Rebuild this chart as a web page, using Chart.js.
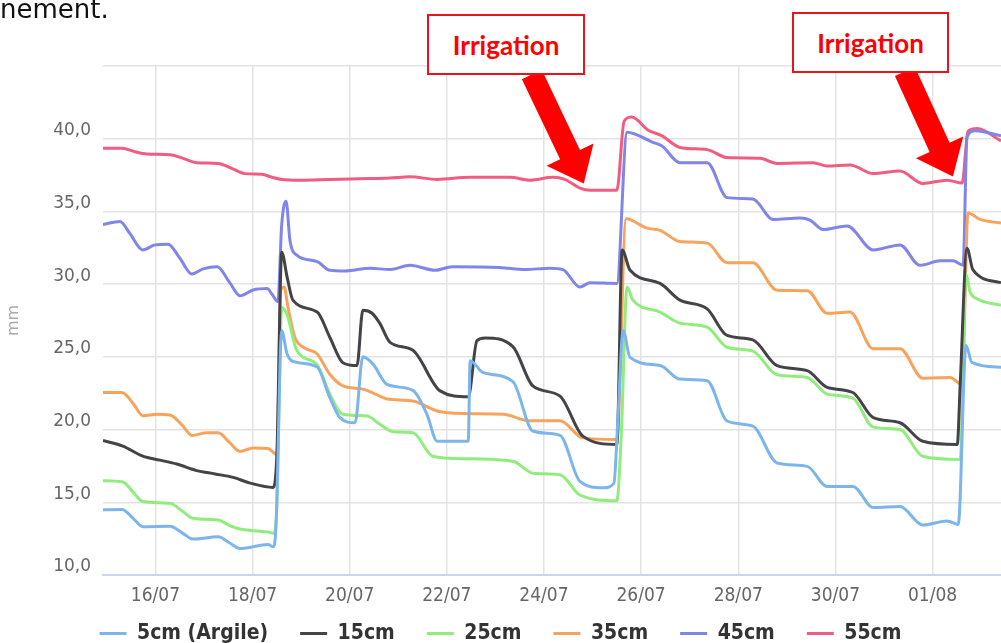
<!DOCTYPE html>
<html>
<head>
<meta charset="utf-8">
<script src="https://cdn.jsdelivr.net/npm/chart.js@4.4.0/dist/chart.umd.min.js"></script>
<style>
  html, body { margin: 0; padding: 0; background: #fff; }
  #wrap { position: relative; width: 1001px; height: 643px; overflow: hidden; }
  #chart { position: absolute; left: 0; top: 0; }
  .txt { position: absolute; left: 0; top: -4px; font: 26px/26px "DejaVu Sans", sans-serif; color: #111; }
  .irr { position: absolute; box-sizing: border-box; border: 2px solid #e8141c; background: #fff; color: #f00;
         font: bold 26px "Lato", sans-serif; display: flex; align-items: center; justify-content: center; }
</style>
</head>
<body>
<div id="wrap">
  <canvas id="chart" width="1001" height="643"></canvas>
  <div class="txt">nement.</div>
  <div class="irr" style="left:427px;top:14px;width:158px;height:61px">Irrigation</div>
  <div class="irr" style="left:792px;top:12px;width:157px;height:61px">Irrigation</div>
</div>
<script>
// jours (jour de juillet, 32 = 01/08) et valeurs en mm
const xTickDays = [16, 18, 20, 22, 24, 26, 28, 30, 32];
const xTickLabels = ['16/07', '18/07', '20/07', '22/07', '24/07', '26/07', '28/07', '30/07', '01/08'];
const yTicks = [10, 15, 20, 25, 30, 35, 40, 45];

const seriesNames = ['5cm (Argile)', '15cm', '25cm', '35cm', '45cm', '55cm'];

const days5 = [14.92, 15.31, 15.54, 15.74, 16.30, 16.55, 16.77, 17.29, 17.53, 17.74, 18.32, 18.42, 18.48, 18.60, 18.71, 18.91,
  19.33, 19.59, 19.80, 20.11, 20.27, 20.48, 20.77, 21.30, 21.59, 21.80, 22.44, 22.48, 22.74, 23.36, 23.77, 24.33, 24.74,
  25.22, 25.44, 25.52, 25.63, 25.77, 26.39, 26.80, 27.36, 27.77, 28.30, 28.80, 29.42, 29.83, 30.36, 30.78, 31.33, 31.80,
  32.30, 32.53, 32.69, 32.81, 33.41];
const mm5 = [14.48, 14.5, 13.9, 13.32, 13.35, 12.9, 12.47, 12.63, 12.2, 11.82, 12.1, 11.94, 13.2, 26.8, 25.2, 24.62,
  24.3, 22.2, 20.82, 20.47, 25.0, 24.5, 23.1, 22.7, 21.05, 19.2, 19.2, 24.74, 23.93, 23.3, 19.9, 19.6, 16.44,
  16.0, 16.3, 20.6, 26.8, 24.97, 24.4, 23.47, 23.36, 20.59, 20.24, 17.7, 17.47, 16.09, 16.09, 14.64, 14.71, 13.44,
  13.72, 13.48, 25.78, 24.62, 24.28];

const days15 = [14.92, 15.33, 15.74, 16.09, 16.44, 16.85, 17.23, 17.60, 17.95, 18.42, 18.50, 18.60, 18.71, 18.83, 19.33,
  19.59, 19.86, 20.15, 20.27, 20.46, 20.62, 20.83, 21.30, 21.86, 22.44, 22.62, 22.79, 23.36, 23.77, 24.33, 24.80, 25.50,
  25.61, 25.77, 26.39, 26.80, 27.36, 27.77, 28.30, 28.80, 29.42, 29.83, 30.36, 30.78, 31.33, 31.80, 32.51, 32.57, 32.71,
  32.83, 33.41];
const mm15 = [19.25, 18.86, 18.17, 17.9, 17.63, 17.18, 16.95, 16.71, 16.32, 16.02, 18.3, 32.2, 30.5, 28.9, 28.08,
  26.35, 24.6, 24.4, 28.2, 28.0, 27.3, 26.0, 25.45, 22.66, 22.25, 26.12, 26.3, 25.7, 23.0, 22.3, 19.55, 18.98,
  32.35, 30.97, 30.05, 28.9, 28.3, 26.47, 26.17, 24.4, 24.05, 22.9, 22.55, 20.82, 20.47, 19.2, 18.98, 23.1, 32.47,
  31.0, 30.1];

const days25 = [14.92, 15.33, 15.54, 15.74, 16.30, 16.55, 16.77, 17.29, 17.53, 17.74, 18.36, 18.44, 18.50, 18.60, 18.71,
  18.91, 19.33, 19.59, 19.86, 20.36, 20.62, 20.89, 21.30, 21.71, 22.33, 23.36, 23.77, 24.33, 24.74, 25.50, 25.59, 25.71,
  25.83, 26.39, 26.80, 27.36, 27.77, 28.30, 28.80, 29.42, 29.83, 30.36, 30.78, 31.33, 31.80, 32.57, 32.69, 32.77, 32.92,
  33.41];
const mm25 = [16.48, 16.4, 15.7, 15.05, 14.93, 14.4, 13.9, 13.78, 13.4, 13.16, 12.93, 12.86, 14.8, 28.4, 27.9,
  25.45, 24.45, 22.44, 21.05, 20.93, 20.36, 19.85, 19.78, 18.17, 18.0, 17.82, 17.0, 16.9, 15.5, 15.1, 19.5, 29.8,
  28.9, 28.08, 27.32, 27.05, 25.66, 25.39, 23.77, 23.58, 22.44, 22.16, 20.17, 20.0, 18.17, 17.95, 30.7, 29.5, 29.0,
  28.55];

const days35 = [14.92, 15.31, 15.54, 15.74, 16.03, 16.30, 16.55, 16.75, 17.06, 17.29, 17.53, 17.74, 18.01, 18.32, 18.50,
  18.58, 18.65, 18.73, 18.87, 19.08, 19.33, 19.59, 19.86, 20.27, 20.62, 20.77, 21.30, 21.80, 22.33, 23.16, 23.71, 24.33,
  24.80, 25.50, 25.69, 26.12, 26.39, 26.80, 27.36, 27.77, 28.30, 28.80, 29.42, 29.83, 30.30, 30.78, 31.33, 31.80, 32.36,
  32.61, 32.73, 32.98, 33.41];
const mm35 = [22.55, 22.55, 21.8, 20.95, 21.05, 21.0, 20.3, 19.6, 19.78, 19.78, 19.1, 18.5, 18.74, 18.7, 18.28,
  29.6, 29.8, 28.4, 26.35, 25.6, 25.2, 23.8, 23.0, 22.78, 22.3, 22.1, 21.97, 21.28, 21.1, 21.05, 20.6, 20.6,
  19.43, 19.32, 34.5, 33.85, 33.7, 32.93, 32.82, 31.47, 31.47, 29.58, 29.55, 28.0, 28.08, 25.55, 25.55, 23.53, 23.58,
  23.1, 34.9, 34.45, 34.2];

const days45 = [14.92, 15.27, 15.47, 15.74, 15.99, 16.26, 16.50, 16.75, 16.98, 17.27, 17.53, 17.74, 18.01, 18.30, 18.40,
  18.52, 18.60, 18.69, 18.77, 18.91, 19.33, 19.59, 19.90, 20.42, 20.83, 21.24, 21.76, 22.11, 23.09, 23.61, 24.12, 24.39,
  24.74, 24.95, 25.50, 25.71, 26.24, 26.43, 26.80, 27.36, 27.77, 28.30, 28.72, 29.27, 29.48, 29.75, 30.24, 30.78, 31.33,
  31.74, 32.16, 32.42, 32.63, 32.71, 32.88, 33.41];
const mm45 = [34.1, 34.3, 33.5, 32.35, 32.7, 32.75, 31.8, 30.7, 31.05, 31.2, 30.1, 29.2, 29.6, 29.7, 29.3,
  28.8, 34.1, 35.7, 33.0, 32.0, 31.55, 30.95, 30.9, 31.1, 31.0, 31.3, 30.95, 31.2, 31.15, 31.0, 31.1, 31.0,
  29.8, 30.1, 30.05, 40.45, 39.75, 39.5, 38.35, 38.35, 35.95, 35.85, 34.45, 34.55, 34.4, 33.75, 34.0, 32.35, 32.7,
  31.3, 31.6, 31.6, 31.3, 40.1, 40.55, 40.2];

const days55 = [14.92, 15.31, 15.58, 15.82, 16.30, 16.61, 16.85, 17.29, 17.58, 17.84, 18.19, 18.40, 18.60, 18.98, 19.59,
  20.21, 20.83, 21.24, 21.80, 22.48, 23.30, 23.71, 24.19, 24.43, 24.74, 24.95, 25.50, 25.65, 25.81, 26.14, 26.43, 26.80,
  27.36, 27.77, 28.45, 28.80, 29.54, 29.83, 30.30, 30.78, 31.33, 31.80, 32.30, 32.61, 32.73, 32.92, 33.41];
const mm55 = [39.35, 39.35, 39.1, 38.95, 38.9, 38.6, 38.35, 38.3, 37.95, 37.6, 37.55, 37.35, 37.2, 37.15, 37.2,
  37.25, 37.3, 37.38, 37.2, 37.35, 37.35, 37.15, 37.35, 37.2, 36.6, 36.45, 36.45, 41.2, 41.5, 40.6, 40.2, 39.4,
  39.25, 38.7, 38.65, 38.3, 38.35, 38.12, 38.2, 37.6, 37.78, 36.92, 37.15, 36.95, 40.5, 40.7, 39.85];

// pointes des flèches "Irrigation" (jour, mm)
const arrowTips = [[24.82, 36.92], [32.42, 37.40]];

const seriesDays = [days5, days15, days25, days35, days45, days55];
const seriesMm = [mm5, mm15, mm25, mm35, mm45, mm55];
const colors = ['#7cb5ec', '#434348', '#90ed7d', '#f7a35c', '#8085e9', '#f15c80'];

const datasets = seriesNames.map((name, i) => ({
    label: name,
    data: seriesDays[i].map((d, j) => ({ x: d, y: seriesMm[i][j] })),
    borderColor: colors[i],
    backgroundColor: colors[i],
    borderWidth: 3,
    pointRadius: 0,
    cubicInterpolationMode: 'monotone'
}));

// dessine les flèches rouges
const arrowPlugin = {
    id: 'arrows',
    afterDraw(chart) {
        const ctx = chart.ctx;
        const xs = chart.scales.x, ys = chart.scales.y;
        const offsets = [[-52, -109], [-48, -105]];
        ctx.save();
        ctx.fillStyle = '#ff0000';
        arrowTips.forEach((t, k) => {
            const tx = xs.getPixelForValue(t[0]);
            const ty = ys.getPixelForValue(t[1]);
            const sx = tx + offsets[k][0], sy = ty + offsets[k][1];
            const len = Math.hypot(tx - sx, ty - sy);
            const ux = (tx - sx) / len, uy = (ty - sy) / len;
            const nx = -uy, ny = ux;
            const sw = 11, hw = 26, hl = 32;
            const bx = tx - ux * hl, by = ty - uy * hl;
            ctx.beginPath();
            ctx.moveTo(sx + nx * sw, sy + ny * sw);
            ctx.lineTo(bx + nx * sw, by + ny * sw);
            ctx.lineTo(bx + nx * hw, by + ny * hw);
            ctx.lineTo(tx, ty);
            ctx.lineTo(bx - nx * hw, by - ny * hw);
            ctx.lineTo(bx - nx * sw, by - ny * sw);
            ctx.lineTo(sx - nx * sw, sy - ny * sw);
            ctx.closePath();
            ctx.fill();
        });
        ctx.restore();
    }
};

// remonte un peu la légende (le bas reste en place pour ne pas couper le texte)
const legendShift = {
    id: 'legendShift',
    afterLayout(chart) {
        chart.legend.top -= 14;
    }
};

const ctx = document.getElementById('chart').getContext('2d');
new Chart(ctx, {
    type: 'line',
    data: { datasets: datasets },
    plugins: [arrowPlugin, legendShift],
    options: {
        responsive: false,
        animation: false,
        layout: { padding: { top: 66, left: 0, right: 0, bottom: 0 } },
        plugins: {
            legend: {
                position: 'bottom',
                maxHeight: 38,
                labels: {
                    usePointStyle: true,
                    pointStyle: 'line',
                    pointStyleWidth: 27,
                    padding: 32,
                    color: '#333',
                    font: { family: 'DejaVu Sans Condensed', size: 21, weight: 'bold' }
                }
            },
            tooltip: { enabled: false }
        },
        scales: {
            x: {
                type: 'linear',
                min: 14.92,
                max: 33.41,
                afterBuildTicks: axis => { axis.ticks = xTickDays.map(v => ({ value: v })); },
                afterFit: scale => { scale.height = 30; },
                ticks: {
                    callback: (v, i) => xTickLabels[i],
                    autoSkip: false,
                    maxRotation: 0,
                    padding: 10,
                    color: '#666',
                    font: { family: 'DejaVu Sans Condensed', size: 19 }
                },
                grid: { color: '#e3e3e3', lineWidth: 1.5, drawTicks: false },
                border: { color: '#ccd6eb', width: 2 }
            },
            y: {
                min: 10,
                max: 45,
                afterBuildTicks: axis => { axis.ticks = yTicks.map(v => ({ value: v })); },
                afterFit: scale => { scale.width = 103; },
                ticks: {
                    callback: v => v === 45 ? '' : v.toFixed(1).replace('.', ','),
                    padding: 12,
                    labelOffset: -8,
                    color: '#666',
                    font: { family: 'DejaVu Sans', size: 17 }
                },
                title: { display: true, text: 'mm', color: '#aaa', font: { family: 'DejaVu Sans', size: 16 } },
                grid: { color: '#e3e3e3', lineWidth: 1.5, drawTicks: false },
                border: { display: false }
            }
        }
    }
});
</script>
</body>
</html>
